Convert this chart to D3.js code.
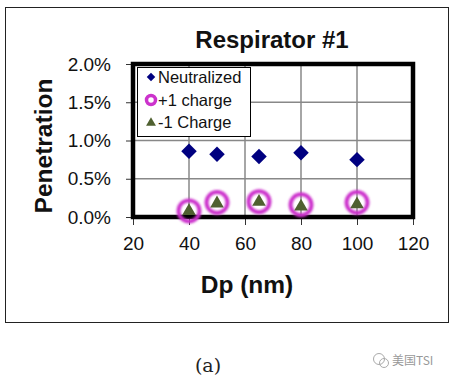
<!DOCTYPE html>
<html><head><meta charset="utf-8">
<script src="https://cdn.jsdelivr.net/npm/d3@7"></script>
<style>body{margin:0;background:#fff}svg{display:block}</style>
</head><body>
<svg id="c" width="450" height="382"></svg>
<script>
const dp = [40, 50, 65, 80, 100];
const neutralized = [0.0086, 0.0082, 0.0079, 0.0084, 0.0075];
const plusOne = [0.0008, 0.0019, 0.0020, 0.0016, 0.0019];
const minusOne = [0.0009, 0.0019, 0.0021, 0.0015, 0.0018];
const xTicks = [20, 40, 60, 80, 100, 120];
const yTicks = [0, 0.005, 0.01, 0.015, 0.02];
const legendLabels = ["Neutralized", "+1 charge", "-1 Charge"];

const svg = d3.select("#c");
const L = 133, R = 413, T = 64, B = 217;
const x = d3.scaleLinear().domain([20, 120]).range([L, R]);
const y = d3.scaleLinear().domain([0, 0.02]).range([B, T]);
const font = "'Liberation Sans', Arial, sans-serif";

// outer frame
svg.append("rect").attr("x", 5.5).attr("y", 7.5).attr("width", 443).attr("height", 315)
  .attr("fill", "#fff").attr("stroke", "#222").attr("stroke-width", 1);

const defs = svg.append("defs");
const f = defs.append("filter").attr("id", "glow").attr("x", "-50%").attr("y", "-50%").attr("width", "200%").attr("height", "200%");
f.append("feGaussianBlur").attr("stdDeviation", 0.8);

// gridlines
const g = svg.append("g");
g.selectAll(".vg").data(xTicks.filter(d => d > 20 && d < 120)).join("line")
  .attr("x1", d => x(d)).attr("x2", d => x(d)).attr("y1", T).attr("y2", B)
  .attr("stroke", "#888").attr("stroke-width", 1.5);
g.selectAll(".hg").data(yTicks.filter(d => d > 0 && d < 0.02)).join("line")
  .attr("x1", L).attr("x2", R).attr("y1", d => y(d)).attr("y2", d => y(d))
  .attr("stroke", "#888").attr("stroke-width", 1.5);

// axes
const yAxis = d3.axisLeft(y).tickValues(yTicks).tickSize(5).tickPadding(15)
  .tickFormat(d => (d * 100).toFixed(1) + "%");
const ya = svg.append("g").attr("transform", `translate(${L - 2},0)`).call(yAxis);
const xAxis = d3.axisBottom(x).tickValues(xTicks).tickSize(6).tickPadding(12);
const xa = svg.append("g").attr("transform", `translate(0,${B + 2})`).call(xAxis);
[ya, xa].forEach(a => {
  a.select(".domain").remove();
  a.selectAll("line").attr("stroke", "#333");
  a.selectAll("text").attr("font-family", font).attr("font-size", 19).attr("fill", "#111");
});

// plot border
svg.append("rect").attr("x", L).attr("y", T).attr("width", R - L).attr("height", B - T)
  .attr("fill", "none").attr("stroke", "#000").attr("stroke-width", 4.5);

// series
const diamond = d3.symbol().type(d3.symbolSquare).size(120);
const tri = d3.symbol().type(d3.symbolTriangle).size(80);

svg.append("g").selectAll("path").data(dp).join("path")
  .attr("d", diamond)
  .attr("transform", (d, i) => `translate(${x(d)},${y(neutralized[i])}) rotate(45)`)
  .attr("fill", "#000080");

svg.append("g").selectAll("circle").data(dp).join("circle")
  .attr("cx", d => x(d)).attr("cy", (d, i) => y(plusOne[i])).attr("r", 10.5)
  .attr("fill", "none").attr("stroke", "#cc33cc").attr("stroke-width", 4).attr("filter", "url(#glow)");

svg.append("g").selectAll("path").data(dp).join("path")
  .attr("d", tri)
  .attr("transform", (d, i) => `translate(${x(d)},${y(minusOne[i]) + 1})`)
  .attr("fill", "#4f6030");

// legend
const lg = svg.append("g");
lg.append("rect").attr("x", 137.5).attr("y", 67.5).attr("width", 113).attr("height", 69)
  .attr("fill", "#fff").attr("stroke", "#000").attr("stroke-width", 1);
const rows = [77, 100, 122];
lg.append("path").attr("d", d3.symbol().type(d3.symbolSquare).size(36))
  .attr("transform", `translate(151,${rows[0]}) rotate(45)`).attr("fill", "#000080");
lg.append("circle").attr("cx", 151).attr("cy", rows[1]).attr("r", 4.5)
  .attr("fill", "none").attr("stroke", "#cc33cc").attr("stroke-width", 3.5);
lg.append("path").attr("d", d3.symbol().type(d3.symbolTriangle).size(42))
  .attr("transform", `translate(151,${rows[2] + 1})`).attr("fill", "#4f6030");
lg.selectAll("text").data(legendLabels).join("text")
  .attr("x", 158).attr("y", (d, i) => rows[i] + 6)
  .attr("font-family", font).attr("font-size", 16.5).attr("fill", "#111").text(d => d);

// titles
svg.append("text").attr("x", 272).attr("y", 48).attr("text-anchor", "middle")
  .attr("font-family", font).attr("font-weight", "bold").attr("font-size", 24).attr("fill", "#111")
  .text("Respirator #1");
svg.append("text").attr("transform", "translate(52,146) rotate(-90)").attr("text-anchor", "middle")
  .attr("font-family", font).attr("font-weight", "bold").attr("font-size", 24.5).attr("fill", "#111")
  .text("Penetration");
svg.append("text").attr("x", 247).attr("y", 293).attr("text-anchor", "middle")
  .attr("font-family", font).attr("font-weight", "bold").attr("font-size", 24.5).attr("fill", "#111")
  .text("Dp (nm)");

// caption & watermark
svg.append("text").attr("x", 208).attr("y", 372).attr("text-anchor", "middle")
  .attr("font-family", "'DejaVu Serif', 'Liberation Serif', serif").attr("font-size", 19).attr("fill", "#222")
  .text("(a)");
const wm = svg.append("g").attr("fill", "none").attr("stroke", "#aaa").attr("stroke-width", 1);
wm.append("circle").attr("cx", 379).attr("cy", 359).attr("r", 5.5);
wm.append("circle").attr("cx", 384).attr("cy", 363).attr("r", 4.5);
svg.append("text").attr("x", 392).attr("y", 365).attr("font-family", "'Noto Sans CJK SC', sans-serif")
  .attr("font-size", 12).attr("fill", "#999").text("美国TSI");
</script>
</body></html>
